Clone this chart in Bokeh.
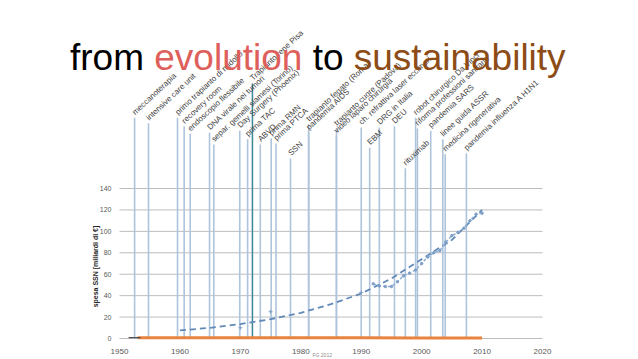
from bokeh.plotting import figure
from bokeh.models import ColumnDataSource, FixedTicker, LabelSet, Label, Range1d
from bokeh.embed import file_html
from bokeh.resources import INLINE
from bokeh.core.properties import value

# ---------------- data ----------------
event_labels = [
    "meccanoterapia", "intensive care unit", "primo trapianto di midollo",
    "recovery room", "endoscopio flessibile", "DNA virale nei tumori",
    "separ. gemelli siamesi (Torino)", "Day Surgery (Phoenix)", "prima TAC",
    "Trapianto rene Pisa", "ABVD", "prima RMN", "prima PTCA", "SSN",
    "trapianto fegato (Roma)", "pandemia AIDS", "trapianto cuore (Padova)",
    "video laparo chirurgia", "ch. refrattiva laser eccimeri", "EBM",
    "DRG in Italia", "DEU", "rituximab", "robot chirurgico Da Vinci",
    "riforma professioni sanitarie", "pandemia SARS", "linee guida ASSR",
    "medicina rigenerativa", "pandemia influenza A H1N1",
]
event_years = [
    1952.5, 1954.8, 1959.6, 1960.7, 1961.7, 1964.9, 1965.6, 1969.9, 1971.2,
    1972.0, 1973.3, 1975.1, 1975.9, 1978.3, 1981.3, 1981.3, 1985.9, 1985.9,
    1990.0, 1991.4, 1993.0, 1995.5, 1997.3, 1999.0, 1999.3, 2001.5, 2003.5,
    2003.9, 2007.4,
]
# height reached by each event's marker line (same units as the y axis)
event_tops = [
    206, 201, 206, 198, 191, 192, 181, 194, 186,
    238, 181, 187, 182, 168, 200, 192, 196, 189,
    197, 178, 197, 198, 159, 206, 196, 194, 186,
    172, 173,
]
highlight_event = "Trapianto rene Pisa"

trend_years = [1960, 1965, 1970, 1975, 1980, 1985, 1990, 1995, 2000, 2005, 2010]
trend_values = [7.5, 10, 13.5, 18, 24, 32, 42, 56, 74, 92, 120]

spesa_sparse_years = [1970, 1975, 1990]
spesa_sparse_values = [10, 25, 43]

spesa_years = [1992, 1993, 1994, 1995, 1996, 1997, 1998, 1999, 2000, 2001,
               2002, 2003, 2004, 2005, 2006, 2007, 2008, 2009, 2010]
spesa_values = [51, 49, 48.5, 48.5, 53, 58.5, 61, 64, 70, 76,
                80, 82, 90, 96, 99, 103, 110, 116, 117]

orange_years = [1953, 1960, 1970, 1980, 1990, 2000, 2010]
orange_values = [0.6, 0.6, 0.7, 0.7, 0.6, 0.5, 0.4]

dark_years = [1951.5, 1953.5]
dark_values = [0.8, 0.8]

x_ticks = [1950, 1960, 1970, 1980, 1990, 2000, 2010, 2020]
y_ticks = [0, 20, 40, 60, 80, 100, 120, 140]

title_words = ["from", "evolution", "to", "sustainability"]
title_colors = ["#000000", "#de5f5b", "#000000", "#8d4c16"]

# ---------------- layout ----------------
W, H = 638, 359
PPY_X = 6.043          # pixels per year
PPY_Y = 1.0714         # pixels per y unit
X_START = x_ticks[0] - 119 / PPY_X
X_END = X_START + W / PPY_X
Y_END = 338 / PPY_Y
Y_START = Y_END - H / PPY_Y


def page_x(px):
    return X_START + px / PPY_X


def page_y(py):
    return Y_END - py / PPY_Y


p = figure(width=W, height=H, output_backend="svg", toolbar_location=None,
           x_range=Range1d(X_START, X_END), y_range=Range1d(Y_START, Y_END),
           min_border=0)
p.min_border_left = 0
p.min_border_right = 0
p.min_border_top = 0
p.min_border_bottom = 0
p.outline_line_color = None
p.background_fill_color = "white"
p.border_fill_color = "white"
p.xgrid.visible = False
p.ygrid.visible = False

# axes fixed inside the frame
p.xaxis.fixed_location = 0
p.xaxis.bounds = (x_ticks[0], x_ticks[-1])
p.xaxis.ticker = FixedTicker(ticks=x_ticks)
p.xaxis.axis_line_color = None
p.xaxis.major_tick_line_color = None
p.xaxis.minor_tick_line_color = None
p.xaxis.major_tick_out = 0
p.xaxis.major_tick_in = 0
p.xaxis.major_label_standoff = 10
p.xaxis.major_label_text_font = "Liberation Sans"
p.xaxis.major_label_text_font_size = "8px"
p.xaxis.major_label_text_color = "#595959"

p.yaxis.fixed_location = x_ticks[0]
p.yaxis.bounds = (y_ticks[0], y_ticks[-1])
p.yaxis.ticker = FixedTicker(ticks=y_ticks)
p.yaxis.axis_line_color = None
p.yaxis.major_tick_line_color = None
p.yaxis.minor_tick_line_color = None
p.yaxis.major_tick_out = 0
p.yaxis.major_tick_in = 0
p.yaxis.major_label_standoff = 8
p.yaxis.major_label_text_font = "Liberation Sans"
p.yaxis.major_label_text_font_size = "7px"
p.yaxis.major_label_text_color = "#595959"

# horizontal grid lines between first and last year tick
n = len(y_ticks)
p.segment(x0=[x_ticks[0]] * n, y0=y_ticks, x1=[x_ticks[-1]] * n, y1=y_ticks,
          line_color="#bdbdbd", line_width=1)

# event lines
ev_src = ColumnDataSource(dict(x=event_years, top=event_tops,
                               base=[0] * len(event_years), label=event_labels))
p.segment(x0="x", y0="base", x1="x", y1="top", source=ev_src,
          line_color="#aec4dc", line_width=1.6)
hi = event_labels.index(highlight_event)
hi_src = ColumnDataSource(dict(x=[event_years[hi]], top=[event_tops[hi]], base=[0]))
p.segment(x0="x", y0="base", x1="x", y1="top", source=hi_src,
          line_color="#3d8a93", line_width=1.3)

# data series
p.line(orange_years, orange_values, line_color="#e8843f", line_width=3)
p.line(dark_years, dark_values, line_color="#555555", line_width=1.2)
p.line(trend_years, trend_values, line_color="#6189b8", line_width=1.8,
       line_dash="6 4")
p.line(spesa_years, spesa_values, line_color="#8fb0d6", line_width=1.5,
       line_dash="3 2")
p.scatter(spesa_years, spesa_values, marker="circle", size=2.5,
          fill_color="#7fa0c8", line_color="#7fa0c8")
p.scatter(spesa_sparse_years, spesa_sparse_values, marker="cross", size=4,
          line_color="#7fa0c8", line_width=1)

# event labels
labels = LabelSet(x="x", y="top", text="label", source=ev_src,
                  angle=43, angle_units="deg", x_offset=2, y_offset=1,
                  text_font=value("Liberation Sans"), text_font_size="8px",
                  text_color="#3f3f3f", text_align="left",
                  text_baseline="bottom")
p.add_layout(labels)

# y axis title
p.add_layout(Label(x=page_x(95), y=page_y(266), text="spesa SSN [miliardi di €]",
                   angle=90, angle_units="deg", text_align="center",
                   text_baseline="middle", text_font="Liberation Sans",
                   text_font_size="7px", text_font_style="bold",
                   text_color="#262626"))

# signature
p.add_layout(Label(x=page_x(312), y=page_y(354), text="FG 2012",
                   text_align="left", text_baseline="alphabetic",
                   text_font="Liberation Sans", text_font_size="5px",
                   text_color="#8c8c8c"))

# title (multi-coloured words)
fs = 37
advance_em = [2.278, 4.280, 1.112, 0.0]  # word + following space, in em
xpos = 69.5
for word, col, adv in zip(title_words, title_colors, advance_em):
    p.add_layout(Label(x=page_x(xpos), y=page_y(56.5), text=word,
                       text_align="left", text_baseline="alphabetic",
                       text_font="Liberation Sans", text_font_size=f"{fs}px",
                       text_color=col))
    xpos += adv * fs

open("out.html", "w").write(file_html(p, INLINE))
